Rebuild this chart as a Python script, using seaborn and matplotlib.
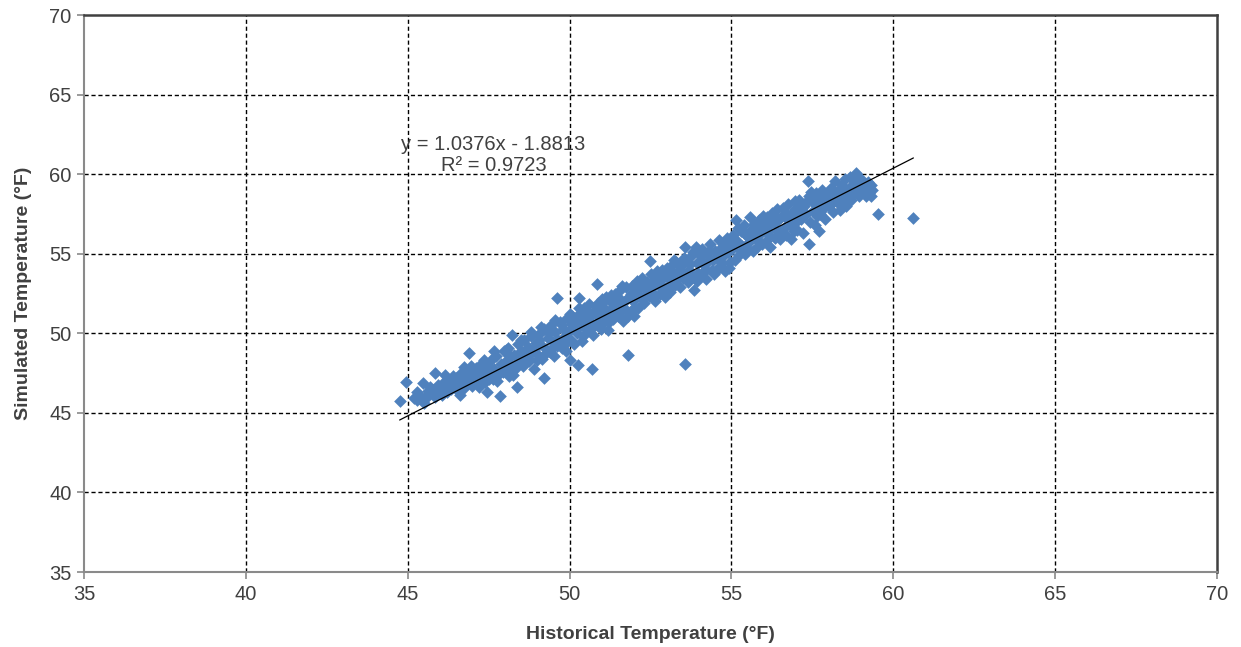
import numpy as np
import pandas as pd
import matplotlib
matplotlib.use("Agg")
import matplotlib.pyplot as plt
import seaborn as sns

# Historical vs. simulated annual temperatures (°F)
hist_temp = [
    44.75, 44.95, 45.20, 45.28, 45.35, 45.42, 45.46, 45.50, 45.55, 45.62, 45.70, 45.77, 45.83, 45.90, 45.95,
    46.02, 46.08, 46.14, 46.20, 46.25, 46.30, 46.35, 46.42, 46.48, 46.50, 46.55, 46.60, 46.65, 46.70, 46.75,
    46.80, 46.85, 46.90, 46.92, 46.98,
    47.02, 47.06, 47.10, 47.15, 47.20, 47.25, 47.30, 47.35, 47.40, 47.44, 47.48, 47.52, 47.58, 47.62, 47.68,
    47.72, 47.78, 47.84, 47.88, 47.93, 47.97,
    48.02, 48.06, 48.10, 48.14, 48.20, 48.22, 48.28, 48.33, 48.36, 48.40, 48.45, 48.50, 48.55, 48.60, 48.65,
    48.70, 48.75, 48.80, 48.85, 48.90, 48.95,
    49.00, 49.05, 49.10, 49.15, 49.20, 49.22, 49.28, 49.32, 49.38, 49.42, 49.48, 49.52, 49.56, 49.62, 49.65,
    49.70, 49.75, 49.80, 49.85, 49.88, 49.92, 49.97, 50.00,
    50.03, 50.07, 50.10, 50.14, 50.18, 50.22, 50.26, 50.30, 50.32, 50.36, 50.40, 50.45, 50.50, 50.55, 50.60,
    50.64, 50.70, 50.72, 50.76, 50.80, 50.86, 50.88, 50.92, 50.96, 50.99,
    51.03, 51.07, 51.12, 51.16, 51.20, 51.25, 51.30, 51.34, 51.40, 51.45, 51.50, 51.55, 51.60, 51.65, 51.70,
    51.75, 51.80, 51.82, 51.87, 51.92, 51.96, 51.99,
    52.03, 52.08, 52.12, 52.17, 52.20, 52.25, 52.30, 52.35, 52.40, 52.45, 52.48, 52.52, 52.56, 52.60, 52.65,
    52.70, 52.75, 52.80, 52.85, 52.90, 52.95, 52.98,
    53.02, 53.06, 53.10, 53.15, 53.20, 53.25, 53.30, 53.35, 53.40, 53.45, 53.50, 53.55, 53.58, 53.60, 53.65,
    53.70, 53.75, 53.80, 53.85, 53.90, 53.92, 53.97,
    54.02, 54.06, 54.10, 54.15, 54.20, 54.25, 54.30, 54.35, 54.40, 54.45, 54.50, 54.55, 54.60, 54.65, 54.70,
    54.75, 54.80, 54.85, 54.90, 54.95, 54.98,
    55.02, 55.06, 55.10, 55.15, 55.18, 55.22, 55.28, 55.32, 55.38, 55.42, 55.48, 55.52, 55.56, 55.60, 55.65,
    55.70, 55.75, 55.80, 55.85, 55.90, 55.95, 55.98,
    56.02, 56.06, 56.10, 56.15, 56.20, 56.25, 56.30, 56.35, 56.40, 56.45, 56.50, 56.55, 56.60, 56.65, 56.70,
    56.75, 56.80, 56.85, 56.90, 56.95, 56.98,
    57.02, 57.06, 57.10, 57.15, 57.20, 57.25, 57.30, 57.35, 57.38, 57.40, 57.42, 57.48, 57.52, 57.58, 57.62,
    57.68, 57.70, 57.75, 57.80, 57.85, 57.90, 57.95,
    58.02, 58.06, 58.10, 58.15, 58.20, 58.25, 58.30, 58.35, 58.40, 58.45, 58.50, 58.55, 58.60, 58.65, 58.70,
    58.75, 58.80, 58.85, 58.90, 58.95, 59.00, 59.05, 59.10, 59.15, 59.20, 59.25, 59.30, 59.35, 59.54, 60.62,
    # second set of years
    45.30, 45.60, 45.85, 46.05, 46.40, 46.60, 46.75, 46.95, 47.10,
    47.20, 47.35, 47.50, 47.65, 47.75, 47.90, 48.05, 48.15, 48.25, 48.42, 48.50, 48.60, 48.72, 48.80, 48.92, 48.98,
    49.05, 49.12, 49.25, 49.35, 49.45, 49.55, 49.60, 49.70, 49.78, 49.90, 50.00,
    50.08, 50.20, 50.28, 50.38, 50.42, 50.52, 50.62, 50.70, 50.82, 50.90, 50.98,
    51.05, 51.10, 51.22, 51.28, 51.38, 51.48, 51.58, 51.63, 51.72, 51.80, 51.90,
    52.00, 52.05, 52.15, 52.28, 52.38, 52.50, 52.60, 52.68, 52.78, 52.88, 52.97,
    53.05, 53.12, 53.22, 53.32, 53.42, 53.52, 53.62, 53.72, 53.82, 53.95,
    54.05, 54.12, 54.22, 54.32, 54.42, 54.52, 54.62, 54.72, 54.82, 54.92, 54.97,
    55.05, 55.12, 55.20, 55.30, 55.40, 55.50, 55.58, 55.68, 55.78, 55.88, 55.97,
    56.05, 56.12, 56.22, 56.32, 56.42, 56.52, 56.62, 56.72, 56.82, 56.92, 56.97,
    57.05, 57.12, 57.22, 57.32, 57.45, 57.55, 57.65, 57.72, 57.82, 57.92,
    58.00, 58.12, 58.22, 58.32, 58.42, 58.52, 58.62, 58.72, 58.82, 58.92, 59.02, 59.12, 59.22, 59.32,
]

sim_temp = [
    45.72, 46.92, 45.95, 45.78, 46.10, 45.85, 46.90, 45.62, 46.05, 46.35, 46.60, 46.42, 47.50, 46.20, 46.75,
    46.45, 46.90, 47.38, 46.30, 46.70, 47.05, 46.50, 46.85, 46.60, 47.20, 46.35, 47.45, 46.80, 47.10, 46.55,
    47.60, 46.95, 48.75, 47.30, 46.70,
    47.50, 47.00, 47.85, 46.85, 47.35, 48.10, 47.20, 47.65, 46.95, 46.30, 47.90, 47.45, 48.35, 47.15, 47.75,
    48.60, 47.40, 46.05, 48.10, 47.55, 48.90,
    47.70, 48.35, 49.10, 47.30, 48.00, 49.90, 48.65, 47.85, 46.65, 49.30, 48.40, 48.90, 47.95, 49.60, 48.60,
    49.15, 48.25, 49.85, 48.80, 47.75, 49.40,
    48.70, 49.95, 49.30, 48.40, 47.20, 50.25, 49.00, 49.70, 48.85, 50.50, 49.45, 48.60, 50.10, 52.20, 49.60,
    50.70, 49.10, 50.30, 49.80, 48.90, 50.95, 50.15, 48.30,
    49.60, 51.10, 50.40, 49.30, 50.85, 50.00, 48.00, 52.20, 51.30, 50.55, 49.80, 51.60, 50.90, 50.20, 51.85,
    50.70, 47.75, 49.90, 51.40, 50.50, 53.12, 51.90, 51.00, 50.30, 52.15,
    51.50, 50.70, 52.30, 51.20, 50.20, 52.00, 51.60, 50.90, 52.50, 51.80, 51.10, 52.75, 52.10, 50.80, 51.50,
    52.90, 48.65, 52.30, 51.35, 53.00, 52.00, 51.10,
    52.60, 53.30, 51.60, 52.90, 52.20, 53.50, 51.90, 52.75, 53.20, 52.35, 54.55, 53.70, 52.60, 53.05, 52.00,
    53.90, 53.30, 52.50, 54.00, 53.00, 52.30, 53.60,
    54.10, 53.40, 52.60, 54.30, 53.70, 53.05, 54.50, 53.90, 52.90, 54.20, 53.50, 48.07, 55.40, 54.60, 53.20,
    54.00, 54.85, 53.55, 52.75, 55.40, 54.40, 53.80,
    54.90, 53.70, 55.30, 54.30, 53.40, 55.00, 54.60, 55.60, 54.00, 53.70, 55.20, 54.70, 55.85, 54.20, 55.40,
    54.85, 53.90, 56.00, 55.10, 54.50, 55.70,
    55.30, 56.20, 54.60, 57.10, 55.80, 54.90, 56.40, 55.50, 56.80, 55.00, 56.10, 55.70, 57.30, 56.50, 55.20,
    56.85, 55.90, 55.40, 57.10, 56.30, 55.60, 57.40,
    56.70, 55.80, 57.30, 56.20, 55.40, 57.55, 56.90, 56.00, 57.80, 57.10, 55.90, 56.50, 57.90, 57.30, 56.20,
    58.10, 56.80, 55.90, 57.60, 58.30, 57.00,
    56.50, 57.80, 58.40, 57.20, 56.30, 58.00, 57.50, 59.55, 58.60, 55.60, 57.00, 58.30, 57.70, 56.80, 58.80,
    58.10, 56.40, 57.50, 59.00, 58.40, 57.20, 58.70,
    58.00, 59.10, 58.50, 57.60, 59.55, 58.90, 58.20, 57.75, 59.30, 58.60, 59.70, 58.00, 59.00, 59.85, 58.40,
    59.40, 58.80, 60.05, 59.20, 58.60, 59.70, 58.90, 59.40, 58.65, 59.10, 58.80, 59.30, 59.00, 57.52, 57.22,
    # second set of years
    46.30, 46.00, 46.00, 46.10, 47.30, 46.10, 47.90, 47.95, 47.55,
    46.60, 48.30, 47.10, 48.90, 47.00, 47.80, 48.95, 48.60, 47.40, 48.05, 49.55, 48.20, 48.45, 50.10, 49.05, 48.30,
    49.55, 50.40, 48.70, 50.05, 49.10, 50.85, 49.20, 49.45, 50.55, 49.40, 51.20,
    50.60, 50.25, 51.60, 49.50, 51.10, 51.40, 50.25, 51.15, 51.70, 50.70, 51.55,
    52.00, 51.50, 50.70, 52.40, 51.30, 52.20, 51.40, 53.00, 52.00, 51.10, 52.50,
    51.60, 53.00, 52.40, 53.10, 52.50, 53.10, 52.30, 53.40, 52.90, 53.60, 52.75,
    53.80, 53.00, 54.60, 53.40, 54.00, 54.75, 53.70, 54.35, 55.10, 53.30,
    54.50, 55.00, 54.00, 55.20, 54.60, 53.90, 55.10, 54.40, 55.60, 54.10, 55.35,
    55.80, 55.60, 56.60, 55.20, 56.30, 55.30, 56.00, 56.40, 56.60, 55.70, 56.70,
    57.00, 56.50, 56.90, 57.40, 56.40, 57.30, 56.60, 57.50, 57.20, 56.40, 57.80,
    57.30, 57.90, 57.60, 58.30, 58.90, 58.20, 57.40, 58.50, 57.80, 58.30,
    58.80, 58.20, 58.50, 59.00, 58.20, 58.70, 58.40, 59.10, 59.50, 59.60, 59.20, 59.00, 59.50, 58.60,
]

# Linear trend reported on the chart
slope = 1.0376
intercept = -1.8813
r_squared = 0.9723

axis_ticks = [35, 40, 45, 50, 55, 60, 65, 70]

df = pd.DataFrame({"Historical": hist_temp, "Simulated": sim_temp})

sns.set_theme(style="white")
plt.rcParams["font.family"] = ["Liberation Sans", "DejaVu Sans"]

fig = plt.figure(figsize=(12.41, 6.47), dpi=100)
ax = fig.add_axes([0.0677, 0.1159, 0.9130, 0.8609])

sns.scatterplot(data=df, x="Historical", y="Simulated", marker="D", s=42,
                color="#4F81BD", linewidth=0, ax=ax, zorder=3, legend=False)

# Trend line spanning the observed range
x_ends = np.array([min(hist_temp), max(hist_temp)])
ax.plot(x_ends, slope * x_ends + intercept, color="black", lw=0.9, zorder=4)

ax.set_xlim(35, 70)
ax.set_ylim(35, 70)
ax.set_xticks(axis_ticks)
ax.set_yticks(axis_ticks)

# Dashed interior grid
for v in axis_ticks[1:-1]:
    ax.axvline(v, color="black", lw=1.0, ls=(0, (3, 2)), zorder=1)
    ax.axhline(v, color="black", lw=1.0, ls=(0, (3, 2)), zorder=1)

for side in ["top", "right"]:
    ax.spines[side].set_color("#404040")
    ax.spines[side].set_linewidth(1.8)
for side in ["left", "bottom"]:
    ax.spines[side].set_color("#8a8a8a")
    ax.spines[side].set_linewidth(1.5)

ax.tick_params(axis="both", which="major", direction="out", length=5, width=1.2,
               color="#8a8a8a", labelsize=14.5, labelcolor="#404040", pad=4,
               bottom=True, left=True)

ax.set_xlabel("Historical Temperature (°F)", fontsize=14, fontweight="bold",
              color="#404040", labelpad=16)
ax.set_ylabel("Simulated Temperature (°F)", fontsize=14, fontweight="bold",
              color="#404040", labelpad=12)

ax.text(47.65, 61.84, f"y = {slope}x - {abs(intercept)}", fontsize=14.5,
        color="#404040", ha="center", va="center", zorder=5)
ax.text(47.65, 60.52, f"R² = {r_squared}", fontsize=14.5,
        color="#404040", ha="center", va="center", zorder=5)

fig.savefig("out.png", dpi=100)
